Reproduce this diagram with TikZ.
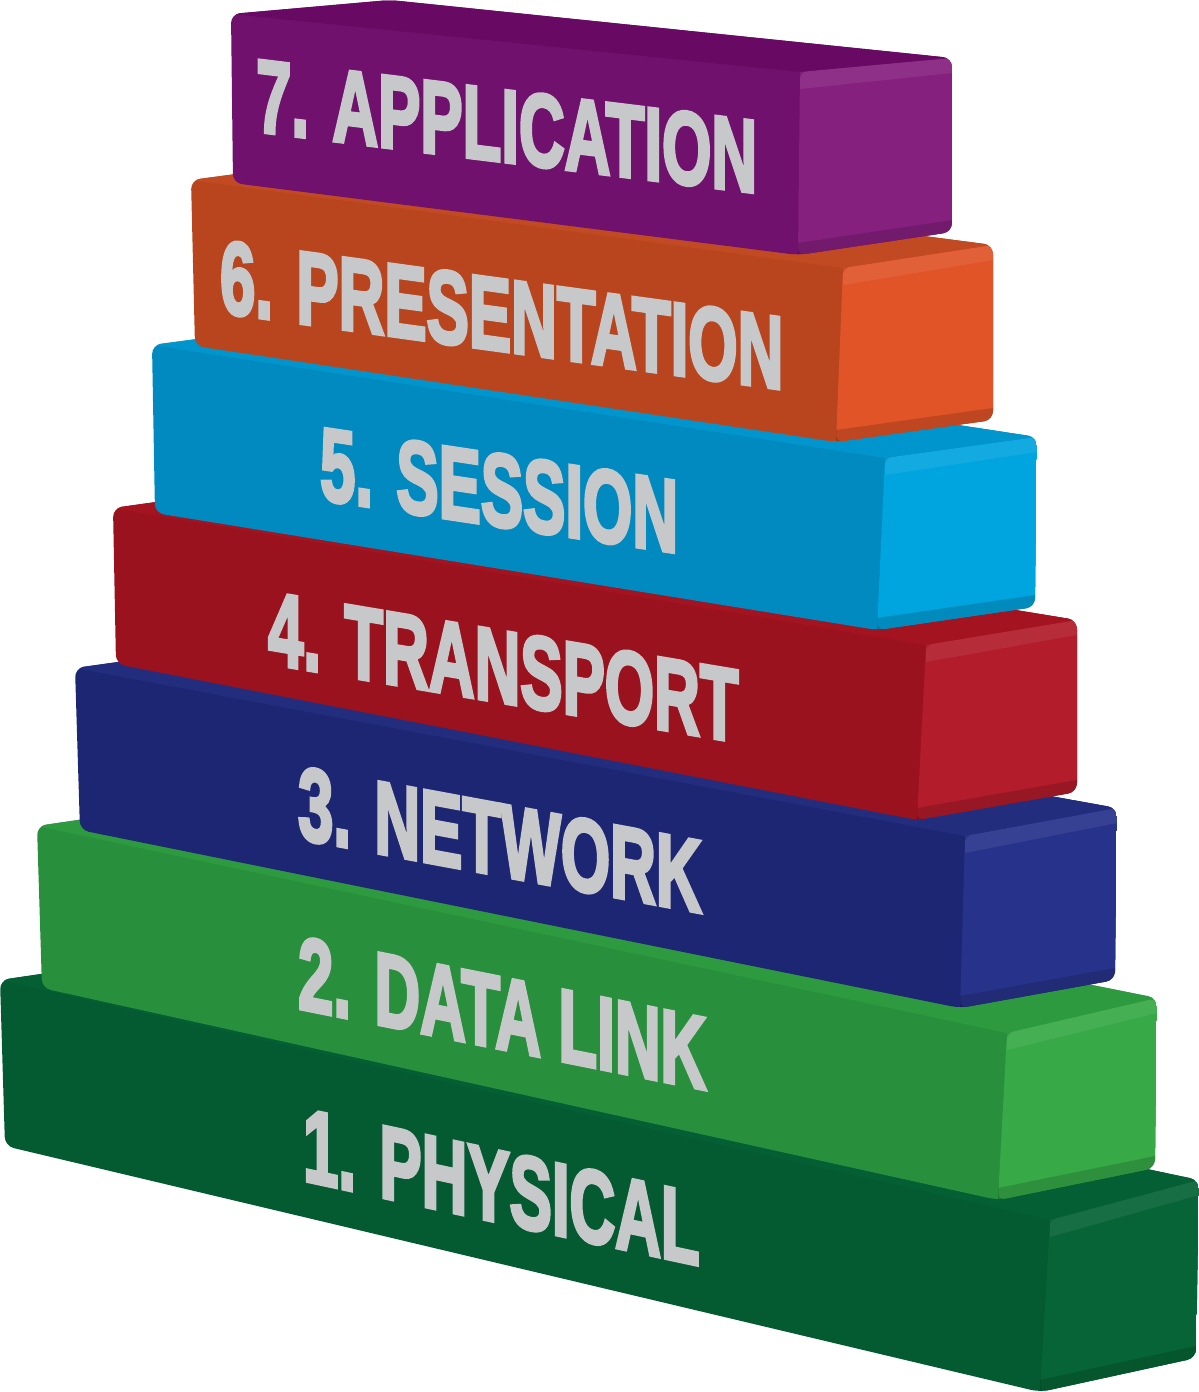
\documentclass[tikz,border=0pt]{standalone}
\usepackage{fontspec}
\usetikzlibrary{calc}
\newfontfamily\layerfont{Liberation Sans}[BoldFeatures={FakeBold=4}]

\definecolor{labelgray}{HTML}{C7C8CA}
\definecolor{appfront}{HTML}{70116D}   \definecolor{apptop}{HTML}{680A64}   \definecolor{appside}{HTML}{86207F}
\definecolor{presfront}{HTML}{B9451F}  \definecolor{prestop}{HTML}{C24A22}  \definecolor{presside}{HTML}{E05428}
\definecolor{sessfront}{HTML}{008ABF}  \definecolor{sesstop}{HTML}{0095CC}  \definecolor{sessside}{HTML}{00A4DE}
\definecolor{transfront}{HTML}{9B121F} \definecolor{transtop}{HTML}{A41420} \definecolor{transside}{HTML}{B21C2B}
\definecolor{netfront}{HTML}{1D2672}   \definecolor{nettop}{HTML}{222D7E}   \definecolor{netside}{HTML}{27338B}
\definecolor{linkfront}{HTML}{288F3C}  \definecolor{linktop}{HTML}{2E9A40}  \definecolor{linkside}{HTML}{37AA47}
\definecolor{physfront}{HTML}{045A31}  \definecolor{phystop}{HTML}{055F34}  \definecolor{physside}{HTML}{066436}

\tikzset{
  layerlabel/.style={text=labelgray, inner sep=0pt, anchor=base west, transform shape,
    text height=0.72em, text depth=0pt,
    font=\layerfont\bfseries\fontsize{103}{103}\selectfont}
}

% colour prefix, front corners A B C D, back corners E F (right) and G (left)
\newcommand{\layerbox}[8]{%
  \begin{scope}
    \clip[rounded corners=9pt] #2 -- #8 -- #6 -- #7 -- #4 -- #5 -- cycle;
    \fill[#1front] #2 -- #8 -- #6 -- #7 -- #4 -- #5 -- cycle;
    \fill[#1top] #2 -- #8 -- #6 -- #3 -- cycle;
    \fill[#1side, rounded corners=7pt] #3 -- #6 -- #7 -- #4 -- cycle;
    \fill[white, opacity=0.07] #3 -- #6 -- ($#6+(0,15)$) -- ($#3+(0,17)$) -- cycle;
    \fill[black, opacity=0.15] ($#4+(0,-12)$) -- ($#7+(0,-12)$) -- #7 -- #4 -- cycle;
  \end{scope}}

% node name, left end of baseline, slope, text
\newcommand{\layername}[4]{%
  \begin{scope}[shift={#2}, yslant=-#3, xscale=0.615]
    \node[layerlabel] (#1) at (0,0) {#4};
  \end{scope}}

\begin{document}
\begin{tikzpicture}[x=1pt, y=-1pt]
\useasboundingbox (0,0) rectangle (1199,1392);

\layerbox{phys}{(0,980)}{(1050,1220)}{(1040,1392)}{(5,1146)}{(1199,1180)}{(1196,1358)}{(150,958)}
\layerbox{link}{(37,826)}{(1007,1033)}{(998,1200)}{(42,988)}{(1157,998)}{(1155,1168)}{(187,804)}
\layerbox{net}{(75,668)}{(965,836)}{(960,1008)}{(80,830)}{(1117,808)}{(1115,980)}{(225,647)}
\layerbox{trans}{(113,508)}{(926,645)}{(917,820)}{(116,664)}{(1077,620)}{(1077,792)}{(263,487)}
\layerbox{sess}{(152,345)}{(885,458)}{(877,630)}{(155,513)}{(1037,437)}{(1035,607)}{(302,325)}
\layerbox{pres}{(191,180)}{(843,268)}{(836,442)}{(195,346)}{(993,245)}{(993,420)}{(341,160)}
\layerbox{app}{(231,14)}{(800,72)}{(798,255)}{(233,183)}{(952,58)}{(952,232)}{(390,0)}

\layername{physical}{(303,1180)}{0.215}{1. PHYSICAL}
\layername{datalink}{(298,1008)}{0.2}{2. DATA LINK}
\layername{network}{(298,838)}{0.185}{3. NETWORK}
\layername{transport}{(268,663)}{0.168}{4. TRANSPORT}
\layername{session}{(320,499)}{0.15}{5. SESSION}
\layername{presentation}{(220,312)}{0.137}{6. PRESENTATION}
\layername{application}{(256,131)}{0.123}{7. APPLICATION}
\end{tikzpicture}
\end{document}
